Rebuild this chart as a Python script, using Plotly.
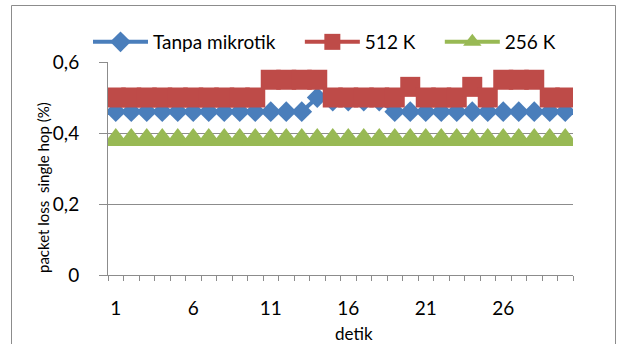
import plotly.graph_objects as go

detik = list(range(1, 31))
tanpa_mikrotik = [0.46] * 13 + [0.50, 0.49, 0.49, 0.49, 0.49] + [0.46] * 12
k512 = ([0.50] * 10 + [0.55] * 4 + [0.50] * 5 + [0.53] + [0.50] * 3 + [0.53] + [0.50]
        + [0.55] * 3 + [0.50] * 2)
k256 = [0.38] * 30
tick_vals = [1, 6, 11, 16, 21, 26]
tick_text = [str(v) for v in tick_vals]
series_names = ["Tanpa mikrotik", "512 K", "256 K"]

FONT = "Lato"
GRAY = "#8c8c8c"
PAD = "\u00a0" * 4

fig = go.Figure()
fig.add_trace(go.Scatter(x=detik, y=tanpa_mikrotik, name=series_names[0] + PAD, mode="lines+markers",
                         line=dict(color="#4A7EBB", width=4),
                         marker=dict(symbol="diamond", size=16, color="#4A7EBB", line=dict(width=0))))
fig.add_trace(go.Scatter(x=detik, y=k512, name=series_names[1] + PAD, mode="lines+markers",
                         line=dict(color="#BE4B48", width=4),
                         marker=dict(symbol="square", size=20, color="#BE4B48", line=dict(width=0))))
fig.add_trace(go.Scatter(x=detik, y=k256, name=series_names[2], mode="lines+markers",
                         line=dict(color="#98B954", width=4),
                         marker=dict(symbol="triangle-up", size=24, color="#98B954", line=dict(width=0))))

W, H = 621, 344
L, R, T, B = 108, 573, 62, 275
pw, ph = R - L, B - T
def px(x):
    return (x - L) / pw
def py(y):
    return (B - y) / ph

fig.update_layout(
    width=W, height=H,
    margin=dict(l=L, r=W - R, t=T, b=H - B),
    paper_bgcolor="white", plot_bgcolor="white",
    separators=",.",
    font=dict(family=FONT, color="black"),
    showlegend=True,
    legend=dict(orientation="h", x=px(88), y=py(42), xanchor="left", yanchor="middle",
                font=dict(size=19, family=FONT, color="black"),
                itemwidth=55, tracegroupgap=0, bgcolor="rgba(0,0,0,0)"),
    xaxis=dict(range=[0.5, 30.5], tickmode="array", tickvals=tick_vals, ticktext=tick_text,
               ticks="", showgrid=False, zeroline=False,
               showline=True, linecolor=GRAY, linewidth=1,
               tickfont=dict(size=19, family=FONT, color="black"), ticklabelstandoff=16,
               minor=dict(ticks="outside", ticklen=5, tick0=0.5, dtick=1, tickcolor=GRAY,
                          tickwidth=1, showgrid=False)),
    yaxis=dict(range=[0, 0.6], tickmode="linear", tick0=0, dtick=0.2,
               ticks="outside", ticklen=8, tickcolor=GRAY, tickwidth=1,
               showgrid=True, gridcolor=GRAY, gridwidth=1, zeroline=False,
               showline=True, linecolor=GRAY, linewidth=1,
               tickfont=dict(size=19, family=FONT, color="black"), ticklabelstandoff=16),
    annotations=[
        dict(text="packet loss  single hop (%)", textangle=-90, xref="paper", yref="paper",
             x=px(43), y=py(188), xanchor="center", yanchor="middle", showarrow=False,
             font=dict(size=15, family=FONT, color="black")),
        dict(text="detik", xref="paper", yref="paper", x=px(354), y=py(333),
             xanchor="center", yanchor="middle", showarrow=False,
             font=dict(size=17, family=FONT, color="black")),
    ],
    shapes=[dict(type="rect", xref="paper", yref="paper", x0=px(11.5), x1=px(615.5),
                 y0=py(360), y1=py(5.5), line=dict(color=GRAY, width=1), layer="below")],
)

fig.write_html("out.html")
